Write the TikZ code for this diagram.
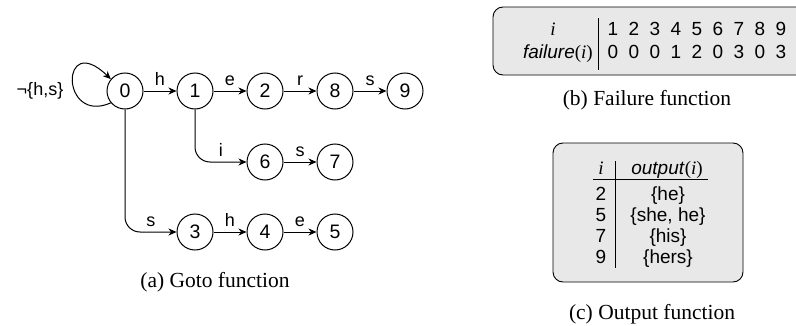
\documentclass[tikz,border=0pt]{standalone}
\usepackage{fontspec}
\setmainfont{Liberation Serif}
\setsansfont{Liberation Sans}
\usetikzlibrary{arrows.meta,positioning}
\definecolor{boxgray}{RGB}{232,232,232}
\tikzset{
  st/.style={circle, draw, line width=1pt, minimum size=36pt, inner sep=0pt, font=\fontsize{19.5}{22}\sffamily},
  elab/.style={font=\fontsize{18}{20}\sffamily, inner sep=0pt, text height=13pt, text depth=0pt},
  arr/.style={-{Stealth[length=8pt,width=7pt,inset=2.5pt]}, line width=1pt},
  tbox/.style={draw, line width=0.9pt, fill=boxgray, rounded corners=10pt},
  tcell/.style={font=\fontsize{19}{22}\sffamily, inner sep=0pt, anchor=base},
  captxt/.style={font=\fontsize{21.5}{24}\rmfamily, anchor=base},
}
\begin{document}
\begin{tikzpicture}[x=1pt, y=1pt]
  \useasboundingbox (0,0) rectangle (796,325);
  % (a) goto graph
  \node[st] (n0) at (125,234) {0};
  \node[st] (n1) at (195,234) {1};
  \node[st] (n2) at (265,234) {2};
  \node[st] (n8) at (335,234) {8};
  \node[st] (n9) at (405,234) {9};
  \node[st] (n6) at (265,163) {6};
  \node[st] (n7) at (335,163) {7};
  \node[st] (n3) at (195,93) {3};
  \node[st] (n4) at (265,93) {4};
  \node[st] (n5) at (335,93) {5};
  \node[elab, text depth=4pt] (nothl) at (40,234) {¬\{h,s\}};
  \draw[arr] (n0) -- node[elab, above=5pt] {h} (n1);
  \draw[arr] (n1) -- node[elab, above=5pt] {e} (n2);
  \draw[arr] (n2) -- node[elab, above=5pt] {r} (n8);
  \draw[arr] (n8) -- node[elab, above=5pt] {s} (n9);
  \draw[arr] (n6) -- node[elab, above=5pt] {s} (n7);
  \draw[arr] (n3) -- node[elab, above=5pt] {h} (n4);
  \draw[arr] (n4) -- node[elab, above=5pt] {e} (n5);
  \draw[arr, rounded corners=15pt] (n1) |- node[elab, above=5pt, pos=0.75] {i} (n6);
  \draw[arr, rounded corners=15pt] (n0) |- node[elab, above=5pt, pos=0.75] {s} (n3);
  \draw[arr] (n0.220) .. controls (60,200) and (60,295) .. (n0.140);
  \node[captxt] (capa) at (215,38) {(a) Goto function};
  % (b) failure table
  \draw[tbox] (493,250) rectangle (815,318);
  \node[tcell] (fhead) at (553,290) {\rmfamily\itshape i};
  \node[tcell, anchor=base east] (fname) at (593,267) {\textit{failure}{\rmfamily(\textit{i})}};
  \foreach \i/\f [count=\k from 0] in {1/0,2/0,3/0,4/1,5/2,6/0,7/3,8/0,9/3} {
    \node[tcell] (fa\i) at ({613+21*\k},290) {\i};
    \node[tcell] (fb\i) at ({613+21*\k},267) {\f};
  }
  \draw[line width=0.9pt] (598,307) -- (598,255);
  \node[captxt] (capb) at (647,220) {(b) Failure function};
  % (c) output table
  \draw[tbox] (553,43) rectangle (743,182);
  \node[tcell] (ohead) at (601,151) {\rmfamily\itshape i};
  \node[tcell] (oname) at (667,151) {\textit{output}{\rmfamily(\textit{i})}};
  \draw[line width=0.9pt] (593,146) -- (708,146);
  \draw[line width=0.9pt] (615,164) -- (615,57);
  \foreach \s/\o [count=\k from 0] in {2/{\{he\}},5/{\{she, he\}},7/{\{his\}},9/{\{hers\}}} {
    \node[tcell] (os\s) at (601,{125-21*\k}) {\s};
    \node[tcell] (oo\s) at (668,{125-21*\k}) {\o};
  }
  \node[captxt] (capc) at (652,6) {(c) Output function};
\end{tikzpicture}
\end{document}
